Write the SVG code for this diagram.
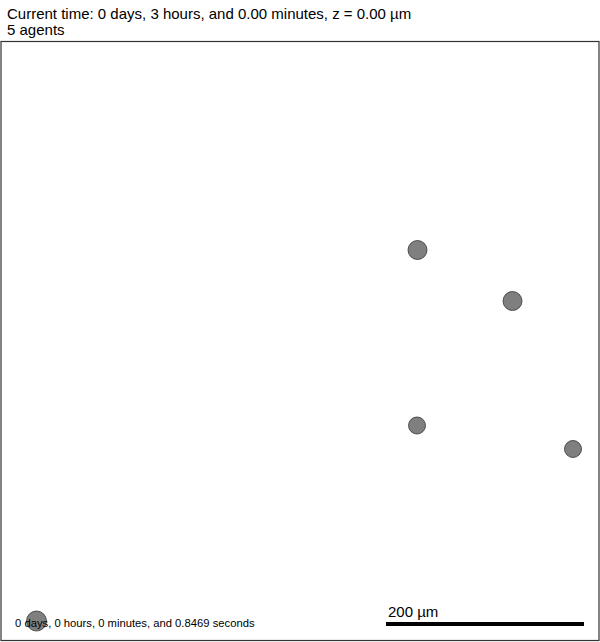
<svg xmlns="http://www.w3.org/2000/svg" width="600" height="642" viewBox="0 0 600 642">
<style>
text{font-family:"Liberation Sans",Arial,sans-serif;fill:#000}
.cell{fill:#7f7f7f;stroke:#333;stroke-width:0.8}
</style>
<rect x="0" y="0" width="600" height="642" fill="#fff"/>
<text x="7" y="19" font-size="15">Current time: 0 days, 3 hours, and 0.00 minutes, z = 0.00 µm</text>
<text x="7" y="35" font-size="15">5 agents</text>
<rect x="1" y="41.5" width="598" height="599" fill="#fff" stroke="#333" stroke-width="1.2"/>
<g id="cells">
<g id="cell1"><circle class="cell" cx="417.5" cy="250" r="9.5"/></g>
<g id="cell2"><circle class="cell" cx="512.5" cy="301" r="9.5"/></g>
<g id="cell3"><circle class="cell" cx="417" cy="425.5" r="8.5"/></g>
<g id="cell4"><circle class="cell" cx="573" cy="449" r="8.5"/></g>
<g id="cell5"><circle class="cell" cx="36.5" cy="621" r="10"/></g>
</g>
<text x="15" y="627" font-size="11.25">0 days, 0 hours, 0 minutes, and 0.8469 seconds</text>
<text x="388" y="617" font-size="15">200 µm</text>
<rect x="386" y="622" width="198" height="4" fill="#000"/>
</svg>
